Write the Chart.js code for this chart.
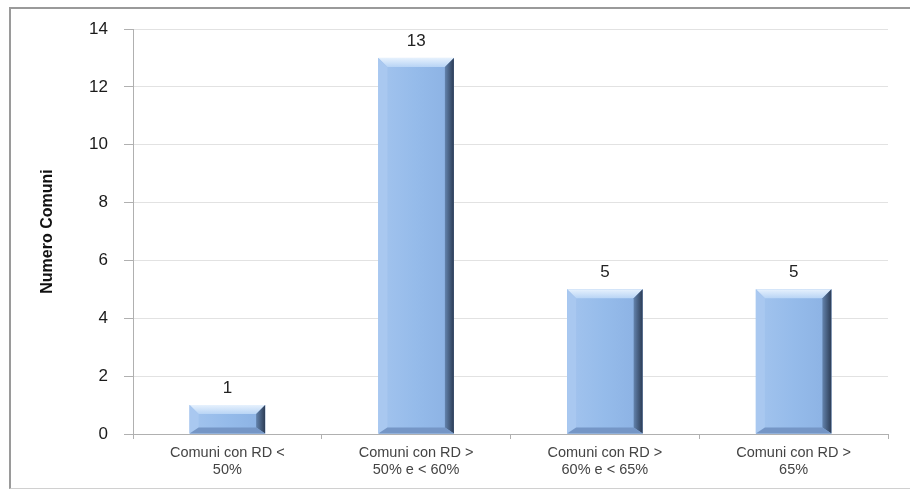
<!DOCTYPE html>
<html>
<head>
<meta charset="utf-8">
<script src="https://cdn.jsdelivr.net/npm/chart.js@4/dist/chart.umd.min.js"></script>
<style>
  html, body { margin: 0; padding: 0; background: #fff; }
  #wrap { position: relative; width: 910px; height: 490px; overflow: hidden; }
  #frame { position: absolute; left: 9px; top: 7px; width: 940px; height: 479px;
           border-left: 2px solid #9a9a9a; border-top: 2px solid #9a9a9a; border-bottom: 1px solid #d0d0d0;
           pointer-events: none; }
  canvas { position: absolute; left: 0; top: 0; }
</style>
</head>
<body>
<div id="wrap">
  <canvas id="c" width="910" height="490"></canvas>
  <div id="frame"></div>
</div>
<script>
const categories = [
  ["Comuni con RD <", "50%"],
  ["Comuni con RD >", "50% e < 60%"],
  ["Comuni con RD >", "60% e < 65%"],
  ["Comuni con RD >", "65%"]
];
const values = [1, 13, 5, 5];
const yTicks = [0, 2, 4, 6, 8, 10, 12, 14];
const yTitle = "Numero Comuni";

const bevelPlugin = {
  id: 'bevel',
  afterDatasetsDraw(chart) {
    const ctx = chart.ctx;
    const meta = chart.getDatasetMeta(0);
    meta.data.forEach((bar) => {
      const p = bar.getProps(['x', 'y', 'base', 'width'], true);
      const l = p.x - p.width / 2, r = p.x + p.width / 2, t = p.y, b = p.base;
      const h = b - t;
      const s = Math.min(9, h / 2.5);
      const sb = Math.min(6, h / 3.5);
      ctx.save();
      const g = ctx.createLinearGradient(l, 0, r, 0);
      g.addColorStop(0, '#a3c4ee');
      g.addColorStop(0.5, '#95bbea');
      g.addColorStop(1, '#8bb1e3');
      ctx.fillStyle = g;
      ctx.fillRect(l, t, r - l, h);
      // top bevel
      const gt = ctx.createLinearGradient(0, t, 0, t + s);
      gt.addColorStop(0, '#e6f1fd');
      gt.addColorStop(1, '#b8d4f5');
      ctx.fillStyle = gt;
      ctx.beginPath();
      ctx.moveTo(l, t); ctx.lineTo(r, t); ctx.lineTo(r - s, t + s); ctx.lineTo(l + s, t + s); ctx.closePath();
      ctx.fill();
      // left bevel
      ctx.fillStyle = '#a9c8f0';
      ctx.beginPath();
      ctx.moveTo(l, t); ctx.lineTo(l + s, t + s); ctx.lineTo(l + s, b - sb); ctx.lineTo(l, b); ctx.closePath();
      ctx.fill();
      // right bevel
      const gr = ctx.createLinearGradient(r - s, 0, r, 0);
      gr.addColorStop(0, '#6383ad');
      gr.addColorStop(1, '#2c3c55');
      ctx.fillStyle = gr;
      ctx.beginPath();
      ctx.moveTo(r, t); ctx.lineTo(r - s, t + s); ctx.lineTo(r - s, b - sb); ctx.lineTo(r, b); ctx.closePath();
      ctx.fill();
      // bottom bevel
      ctx.fillStyle = '#7596c6';
      ctx.beginPath();
      ctx.moveTo(l, b); ctx.lineTo(l + s, b - sb); ctx.lineTo(r - s, b - sb); ctx.lineTo(r, b); ctx.closePath();
      ctx.fill();
      ctx.restore();
    });
    ctx.save();
    ctx.font = '17px "Liberation Sans", Arial, sans-serif';
    ctx.fillStyle = '#222';
    ctx.textAlign = 'center';
    ctx.textBaseline = 'middle';
    meta.data.forEach((bar, i) => {
      ctx.fillText(String(values[i]), bar.x, bar.y - 17);
    });
    ctx.restore();
  }
};

new Chart(document.getElementById('c'), {
  type: 'bar',
  data: {
    labels: categories,
    datasets: [{
      data: values,
      backgroundColor: '#95bbea',
      borderWidth: 0,
      categoryPercentage: 1.0,
      barPercentage: 0.4
    }]
  },
  options: {
    responsive: false,
    animation: false,
    devicePixelRatio: 1,
    layout: { padding: { left: 10, top: 29, right: 22, bottom: 0 } },
    plugins: { legend: { display: false }, tooltip: { enabled: false } },
    scales: {
      x: {
        offset: true,
        grid: { display: true, offset: true, drawOnChartArea: false, color: '#b0b0b0', tickLength: 5 },
        border: { color: '#b0b0b0' },
        ticks: {
          color: '#444',
          font: { family: '"Liberation Sans", Arial, sans-serif', size: 14.5, lineHeight: 1.15 },
          padding: 6,
          maxRotation: 0,
          autoSkip: false
        },
        afterFit(scale) { scale.height = 56; }
      },
      y: {
        min: 0, max: 14,
        afterBuildTicks(scale) { scale.ticks = yTicks.map(v => ({ value: v })); },
        grid: { color: '#e2e2e2', tickLength: 9, tickColor: '#b0b0b0' },
        border: { color: '#b0b0b0' },
        ticks: {
          color: '#1a1a1a',
          font: { family: '"Liberation Sans", Arial, sans-serif', size: 17 },
          padding: 16
        },
        title: {
          display: true,
          text: yTitle,
          color: '#111',
          font: { family: '"Liberation Sans", Arial, sans-serif', size: 16, weight: 'bold' },
          padding: { top: 28, bottom: 0 }
        },
        afterFit(scale) { scale.width = 123; }
      }
    }
  },
  plugins: [bevelPlugin]
});
</script>
</body>
</html>
